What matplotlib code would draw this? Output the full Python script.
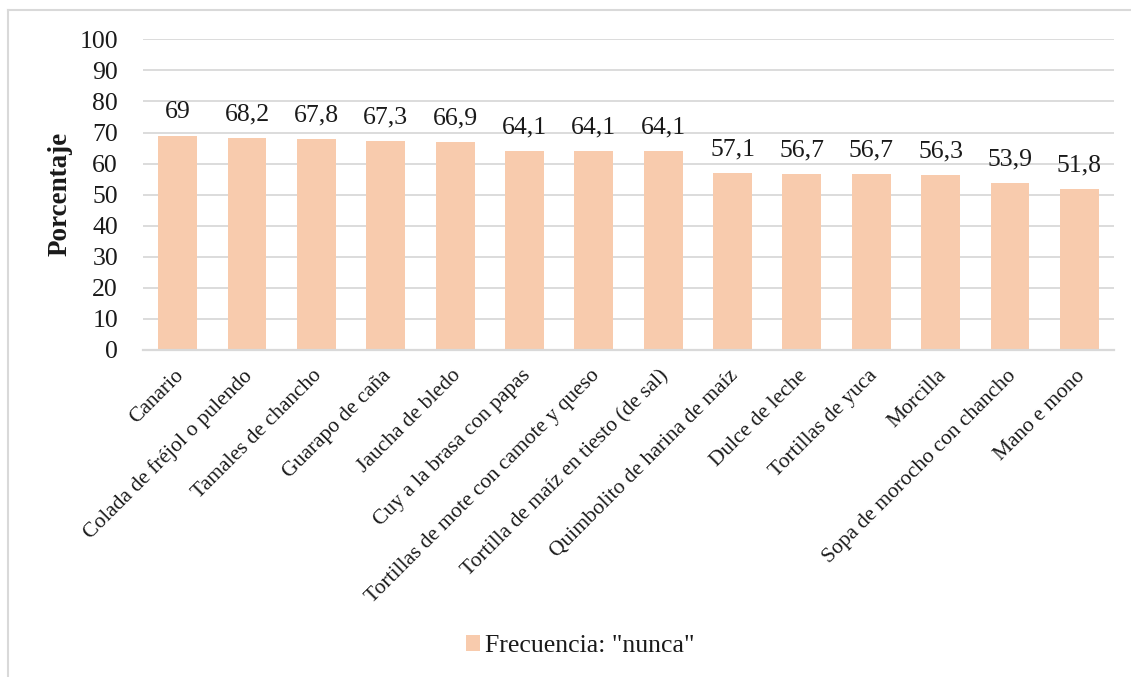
import numpy as np
import matplotlib
matplotlib.use('Agg')
import matplotlib.pyplot as plt
import matplotlib.transforms as mtransforms
from matplotlib.lines import Line2D
from matplotlib.patches import Patch

platos = ['Canario', 'Colada de fréjol o pulendo', 'Tamales de chancho',
          'Guarapo de caña', 'Jaucha de bledo', 'Cuy a la brasa con papas',
          'Tortillas de mote con camote y queso',
          'Tortilla de maíz en tiesto (de sal)', 'Quimbolito de harina de maíz',
          'Dulce de leche', 'Tortillas de yuca', 'Morcilla',
          'Sopa de morocho con chancho', 'Mano e mono']
nunca = [69, 68.2, 67.8, 67.3, 66.9, 64.1, 64.1, 64.1, 57.1, 56.7, 56.7, 56.3, 53.9, 51.8]
etiquetas = ['69', '68,2', '67,8', '67,3', '66,9', '64,1', '64,1', '64,1',
             '57,1', '56,7', '56,7', '56,3', '53,9', '51,8']
yticks = [0, 10, 20, 30, 40, 50, 60, 70, 80, 90, 100]

color_barra = '#F8CBAD'
gris = '#D9D9D9'
texto = '#1a1a1a'

plt.rcParams['font.family'] = ['Liberation Serif', 'DejaVu Serif']

fig = plt.figure(figsize=(11.31, 6.77), dpi=100)
ax = fig.add_axes([143/1131, 1-350/677, (1114-143)/1131, (350-39.3)/677])

x = np.arange(len(platos))
barras = ax.bar(x, nunca, width=0.56, color=color_barra, zorder=3)
ax.bar_label(barras, labels=etiquetas, padding=9, fontsize=18.5, color=texto)

ax.set_xlim(-0.5, len(platos)-0.5)
ax.set_ylim(0, 100)
ax.set_yticks(yticks)
ax.set_yticklabels([str(v) for v in yticks], fontsize=18.5, color=texto)
ax.tick_params(axis='y', length=0, pad=18)
ax.tick_params(axis='x', length=0)
ax.grid(axis='y', color=gris, lw=1.3, zorder=0)
for s in ['top', 'right', 'left']:
    ax.spines[s].set_visible(False)
ax.spines['bottom'].set_color(gris)
ax.spines['bottom'].set_linewidth(1.6)
ax.spines['bottom'].set_zorder(4)

ax.set_xticks(x)
ax.set_xticklabels(platos, rotation=45, ha='right', va='center',
                   rotation_mode='anchor', fontsize=15.5, color=texto)
desplaza = mtransforms.ScaledTranslation(3/100, -18/100, fig.dpi_scale_trans)
for lab in ax.get_xticklabels():
    lab.set_transform(lab.get_transform() + desplaza)

# título del eje y
fig.text(60/1131, 1-194/677, 'Porcentaje', rotation=90, ha='center', va='center',
         fontsize=19.5, fontweight='bold', color=texto)

fig.legend(handles=[Patch(facecolor=color_barra, edgecolor='none')],
           labels=['Frecuencia: "nunca"'], loc='center',
           bbox_to_anchor=(580/1131, 1-646/677), frameon=False,
           fontsize=18.5, handlelength=0.55, handleheight=0.55,
           handletextpad=0.2, labelcolor=texto)

# marco del área del gráfico
fig.add_artist(Line2D([7.5/1131, 1], [1-10/677, 1-10/677], color=gris, lw=1.5))
fig.add_artist(Line2D([7.5/1131, 7.5/1131], [0, 1-10/677], color=gris, lw=1.5))

fig.savefig('out.png', dpi=100, facecolor='white')
